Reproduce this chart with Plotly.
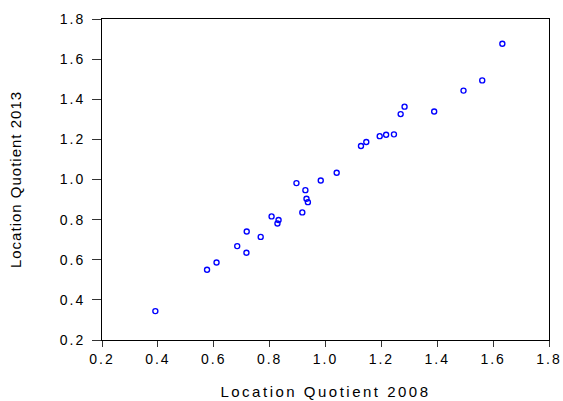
import plotly.graph_objects as go

# Location quotients by region, 2008 vs 2013
lq_2008 = [0.391, 0.576, 0.610, 0.684, 0.717, 0.718, 0.768, 0.807, 0.832, 0.828,
           0.896, 0.917, 0.928, 0.932, 0.937, 0.983, 1.040, 1.127, 1.146, 1.194,
           1.217, 1.245, 1.269, 1.283, 1.389, 1.494, 1.561, 1.633]
lq_2013 = [0.344, 0.550, 0.586, 0.668, 0.635, 0.741, 0.714, 0.816, 0.798, 0.781,
           0.982, 0.836, 0.947, 0.904, 0.887, 0.995, 1.034, 1.167, 1.187, 1.216,
           1.223, 1.225, 1.326, 1.363, 1.339, 1.443, 1.494, 1.677]

tick_vals = [0.2, 0.4, 0.6, 0.8, 1.0, 1.2, 1.4, 1.6, 1.8]
tick_labels = ["0.2", "0.4", "0.6", "0.8", "1.0", "1.2", "1.4", "1.6", "1.8"]

x_title = "Location Quotient 2008"
y_title = "Location Quotient 2013"

FONT = "Liberation Sans, Arial, sans-serif"


def spaced(text, px):
    """Wrap text in a span with extra letter spacing (wide, stretched look)."""
    return f'<span style="letter-spacing:{px}px">{text}</span>'


tick_text = [spaced(t, 2) for t in tick_labels]

fig = go.Figure(
    go.Scatter(
        x=lq_2008,
        y=lq_2013,
        mode="markers",
        marker=dict(symbol="circle-open", size=5, color="#0000ff",
                    line=dict(width=1.4, color="#0000ff")),
        showlegend=False,
    )
)

axis_common = dict(
    range=[0.2, 1.8],
    tickvals=tick_vals,
    ticktext=tick_text,
    ticks="outside",
    tickwidth=1,
    tickcolor="#333333",
    showline=True,
    linecolor="black",
    linewidth=1,
    mirror=True,
    showgrid=False,
    zeroline=False,
    automargin=False,
    tickfont=dict(family=FONT, size=14, color="black"),
)

fig.update_layout(
    width=563,
    height=401,
    margin=dict(l=102, r=14, t=19, b=61),
    paper_bgcolor="white",
    plot_bgcolor="white",
    xaxis=dict(**axis_common, ticklen=6,
               title=dict(text=spaced(x_title, 2.5), standoff=20,
                          font=dict(family=FONT, size=15, color="black"))),
    yaxis=dict(**axis_common, ticklen=9, ticklabelstandoff=4,
               title=dict(text=spaced(y_title, 1), standoff=34,
                          font=dict(family=FONT, size=15, color="black"))),
)

fig.write_html("out.html")
